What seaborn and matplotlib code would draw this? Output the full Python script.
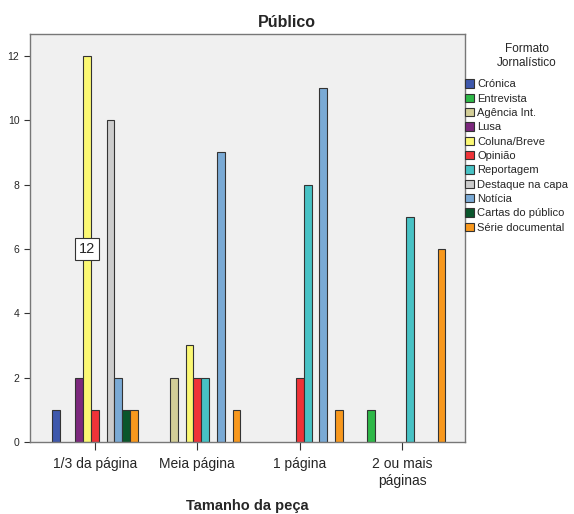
import matplotlib
matplotlib.use("Agg")
import matplotlib.pyplot as plt
import seaborn as sns
import pandas as pd
from matplotlib.patches import Patch

categories = ["1/3 da página", "Meia página", "1 página", "2 ou mais\npáginas"]
series = ["Crónica", "Entrevista", "Agência Int.", "Lusa", "Coluna/Breve", "Opinião",
          "Reportagem", "Destaque na capa", "Notícia", "Cartas do público", "Série documental"]
values = {
    "Crónica":           [1, 0, 0, 0],
    "Entrevista":        [0, 0, 0, 1],
    "Agência Int.":      [0, 2, 0, 0],
    "Lusa":              [2, 0, 0, 0],
    "Coluna/Breve":      [12, 3, 0, 0],
    "Opinião":           [1, 2, 2, 0],
    "Reportagem":        [0, 2, 8, 7],
    "Destaque na capa":  [10, 0, 0, 0],
    "Notícia":           [2, 9, 11, 0],
    "Cartas do público": [1, 0, 0, 0],
    "Série documental":  [1, 1, 1, 6],
}
colors = ["#3E58AC", "#2EB848", "#D3CE97", "#7C287D", "#FBF873", "#EF3338",
          "#48C2C5", "#CCCCCC", "#7AAAD5", "#0A562C", "#F8981D"]

rows = []
for s in series:
    for c, v in zip(categories, values[s]):
        if v > 0:
            rows.append({"Tamanho": c, "Formato": s, "Count": v})
df = pd.DataFrame(rows)

sns.set_style("white")
plt.rcParams['font.family'] = ['Liberation Sans', 'DejaVu Sans']

fig = plt.figure(figsize=(5.74, 5.14), dpi=100)
ax = fig.add_axes([0.052, 0.14, 0.758, 0.794])
ax.set_facecolor("#F0F0F0")

sns.barplot(data=df, x="Tamanho", y="Count", hue="Formato", order=categories,
            hue_order=series, palette=colors, saturation=1, width=0.84, dodge=True,
            edgecolor="#333333", linewidth=0.8, errorbar=None, ax=ax, legend=False)

ax.set_xlim(-0.634, 3.61)
ax.set_ylim(0, 12.68)
ax.set_yticks(range(0, 13, 2))
ax.tick_params(axis="y", labelsize=7.5, length=4, width=0.8, color="#333333", direction="out", left=True)
ax.tick_params(axis="x", labelsize=10, length=6, width=0.8, color="#333333", direction="out",
               bottom=True, pad=5)
for sp in ax.spines.values():
    sp.set_color("#777777")
    sp.set_linewidth(1.0)
ax.set_ylabel("")
ax.set_xlabel("Tamanho da peça", fontsize=10.5, fontweight="bold", labelpad=8)

# annotation on Coluna/Breve bar of first group
slot_w = 0.84 / len(series)
xpos = 0 - 0.42 + slot_w * (series.index("Coluna/Breve") + 0.5)
ax.text(xpos, 6, "12", ha="center", va="center", fontsize=10.5,
        bbox=dict(boxstyle="square,pad=0.25", facecolor="white", edgecolor="#333333", linewidth=0.8))

fig.text(0.5, 0.957, "Público", ha="center", va="center", fontsize=11.5, fontweight="bold")

fig.text(527 / 574, 1 - 56 / 514, "Formato\nJornalístico", ha="center", va="center",
         fontsize=8.5, linespacing=1.25)

handles = [Patch(facecolor=c, edgecolor="#333333", linewidth=0.8, label=s) for s, c in zip(series, colors)]
leg = fig.legend(handles=handles, loc="upper left",
                 bbox_to_anchor=(0.807, 1 - 77 / 514), frameon=False, fontsize=8,
                 handlelength=0.8, handleheight=0.8,
                 handletextpad=0.25, labelspacing=0.38, borderaxespad=0, borderpad=0.2)

fig.savefig("out.png", dpi=100)
